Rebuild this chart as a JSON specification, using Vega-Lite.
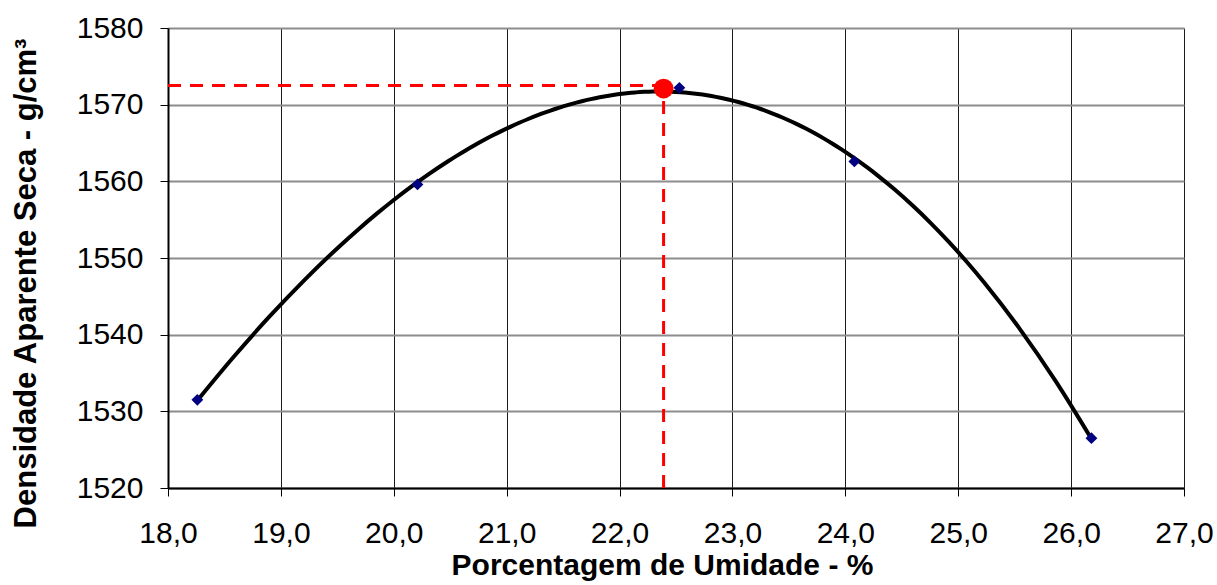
{
  "$schema": "https://vega.github.io/schema/vega-lite/v6.json",
  "width": 1016,
  "height": 460,
  "autosize": "none",
  "padding": {"left": 168, "top": 28, "right": 33, "bottom": 97},
  "background": "white",
  "config": {"view": {"stroke": null}, "font": "Liberation Sans"},
  "datasets": {
    "pts": [
      {"umidade": 18.26, "densidade": 1531.5},
      {"umidade": 20.21, "densidade": 1559.6},
      {"umidade": 22.53, "densidade": 1572.2},
      {"umidade": 24.08, "densidade": 1562.6},
      {"umidade": 26.18, "densidade": 1526.5}
    ],
    "guias": [
      {"umidade": 18.0, "umidade2": 22.39, "densidade": 1572.5, "densidade2": 1572.5},
      {"umidade": 22.39, "umidade2": 22.39, "densidade": 1520, "densidade2": 1572.3}
    ],
    "otimo": [
      {"umidade": 22.39, "densidade": 1572.1}
    ]
  },
  "encoding": {
    "x": {
      "field": "umidade",
      "type": "quantitative",
      "scale": {"domain": [18, 27], "nice": false, "zero": false},
      "axis": {
        "title": "Porcentagem de Umidade - %",
        "values": [18, 19, 20, 21, 22, 23, 24, 25, 26, 27],
        "labelExpr": "replace(format(datum.value, '.1f'), '.', ',')",
        "labelFontSize": 30,
        "labelColor": "#000000",
        "labelPadding": 22,
        "titleFontSize": 30,
        "titleFontWeight": "bold",
        "titleColor": "#000000",
        "titlePadding": 2,
        "titleX": 494,
        "grid": true,
        "gridColor": "#1a1a1a",
        "gridWidth": 1,
        "domainColor": "#000000",
        "domainWidth": 2,
        "tickColor": "#000000",
        "tickSize": 8,
        "labelFlush": false
      }
    },
    "y": {
      "field": "densidade",
      "type": "quantitative",
      "scale": {"domain": [1520, 1580], "nice": false, "zero": false},
      "axis": {
        "title": "Densidade Aparente Seca - g/cm³",
        "values": [1520, 1530, 1540, 1550, 1560, 1570, 1580],
        "format": "d",
        "labelFontSize": 30,
        "labelColor": "#000000",
        "labelPadding": 17,
        "titleFontSize": 31,
        "titleFontWeight": "bold",
        "titleColor": "#000000",
        "titlePadding": 34,
        "titleY": 255,
        "grid": true,
        "gridColor": "#8c8c8c",
        "gridWidth": 2,
        "domainColor": "#000000",
        "domainWidth": 2,
        "tickColor": "#000000",
        "tickSize": 8,
        "labelFlush": false
      }
    }
  },
  "layer": [
    {
      "data": {"name": "guias"},
      "mark": {"type": "rule", "color": "#ff0000", "strokeWidth": 3, "strokeDash": [13, 9]},
      "encoding": {
        "x2": {"field": "umidade2"},
        "y2": {"field": "densidade2"}
      }
    },
    {
      "data": {"name": "pts"},
      "transform": [
        {"regression": "densidade", "on": "umidade", "method": "poly", "order": 3}
      ],
      "mark": {"type": "line", "color": "#000000", "strokeWidth": 4, "interpolate": "monotone"},
      "encoding": {}
    },
    {
      "data": {"name": "otimo"},
      "mark": {"type": "point", "shape": "circle", "filled": true, "color": "#ff0000", "size": 390, "opacity": 1},
      "encoding": {}
    },
    {
      "data": {"name": "pts"},
      "mark": {"type": "point", "shape": "diamond", "filled": true, "color": "#000080", "size": 140, "opacity": 1},
      "encoding": {}
    }
  ]
}
